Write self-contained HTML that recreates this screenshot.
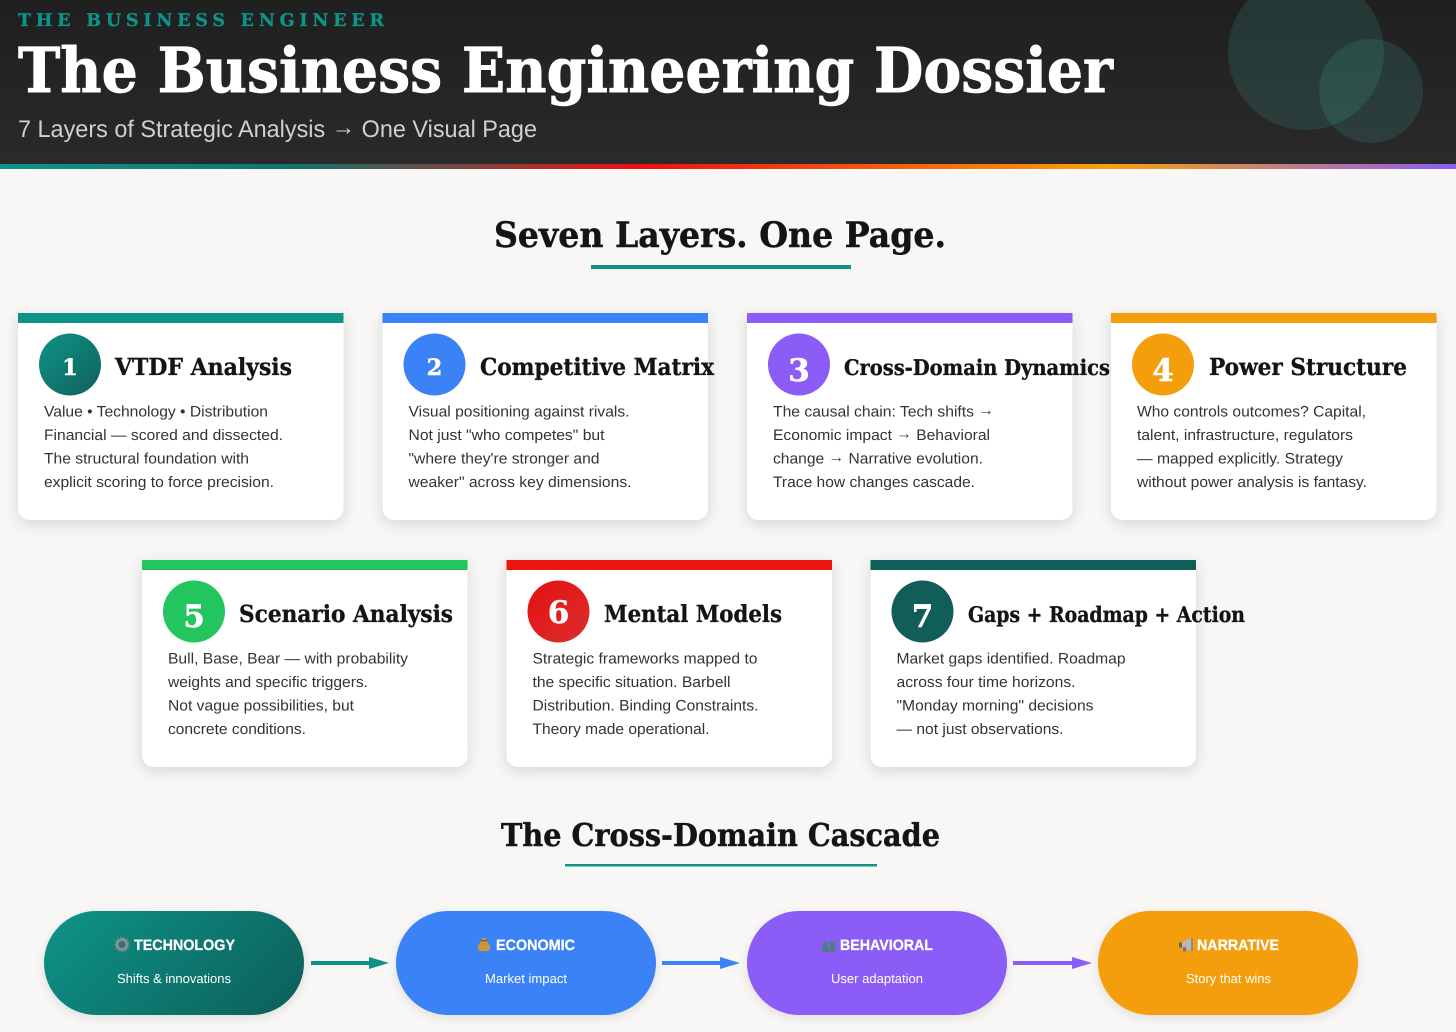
<!DOCTYPE html>
<html><head><meta charset="utf-8"><style>
html,body{margin:0;padding:0;background:#f8f7f5}
svg{display:block;text-rendering:geometricPrecision}
.s{font-family:"DejaVu Serif","Liberation Serif",serif;font-weight:700}
.a{font-family:"Liberation Sans",sans-serif}
.t{font-family:"DejaVu Serif","Liberation Serif",serif;font-weight:700;font-size:23.5px;fill:#141414;stroke:#141414;stroke-width:.35px}
.b{font-family:"Liberation Sans",sans-serif;font-size:15.2px;fill:#333}
.n{font-family:"DejaVu Serif","Liberation Serif",serif;font-weight:700;fill:#fff;stroke:#fff;stroke-width:.5px;text-anchor:middle;font-size:31px}
.sm{font-size:22.5px}
.pl{font-family:"Liberation Sans",sans-serif;font-weight:700;font-size:15px;fill:#fff;stroke:#fff;stroke-width:.25px}
.ps{font-family:"Liberation Sans",sans-serif;font-size:13px;fill:#fff}
</style></head><body>
<svg xmlns="http://www.w3.org/2000/svg" width="1456" height="1032" viewBox="0 0 1456 1032">
<defs>
<linearGradient id="hd" x1="0" y1="0" x2="0" y2="1"><stop offset="0" stop-color="#1f1f1f"/><stop offset="1" stop-color="#2a2a2a"/></linearGradient>
<linearGradient id="st" x1="0" y1="0" x2="1" y2="0"><stop offset="0" stop-color="#0d9488"/><stop offset=".2" stop-color="#0f766e"/><stop offset=".44" stop-color="#ee1010"/><stop offset=".76" stop-color="#f9a008"/><stop offset="1" stop-color="#8b5cf6"/></linearGradient>
<linearGradient id="g1" x1="0" y1="0" x2="1" y2="1"><stop offset="0" stop-color="#0d9488"/><stop offset="1" stop-color="#115e59"/></linearGradient>
<linearGradient id="g6" x1="0" y1="0" x2="1" y2="1"><stop offset="0" stop-color="#e50f0f"/><stop offset="1" stop-color="#dc2f2f"/></linearGradient>
<linearGradient id="gp" gradientUnits="userSpaceOnUse" x1="83" y1="872" x2="265" y2="1054"><stop offset="0" stop-color="#0d9488"/><stop offset="1" stop-color="#115e59"/></linearGradient>
<filter id="sh" x="-10%" y="-10%" width="120%" height="125%"><feDropShadow dx="0" dy="4" stdDeviation="7" flood-color="#000" flood-opacity=".14"/></filter>
<filter id="ps" x="-10%" y="-15%" width="120%" height="135%"><feDropShadow dx="0" dy="3" stdDeviation="5" flood-color="#000" flood-opacity=".1"/></filter>
<path id="card" d="M0 0H325.5V195a12 12 0 0 1-12 12H12a12 12 0 0 1-12-12Z"/>
</defs>
<rect width="1456" height="1032" fill="#f8f7f5"/>
<rect width="1456" height="164" fill="url(#hd)"/>
<circle cx="1306" cy="52" r="78" fill="#4adcc2" opacity=".13"/>
<circle cx="1371" cy="91" r="52" fill="#4adcc2" opacity=".13"/>
<rect y="164" width="1456" height="5" fill="url(#st)"/>
<text class="s" x="18" y="26" font-size="17.5" fill="#0d9488" stroke="#0d9488" stroke-width=".3" textLength="366" lengthAdjust="spacing">THE BUSINESS ENGINEER</text>
<text class="s" x="18" y="92" font-size="62" fill="#fff" stroke="#fff" stroke-width=".9" textLength="1095" lengthAdjust="spacingAndGlyphs">The Business Engineering Dossier</text>
<text class="a" x="18" y="137" font-size="24" fill="#d0d0d0" textLength="519" lengthAdjust="spacingAndGlyphs">7 Layers of Strategic Analysis <tspan dy="-2">→</tspan><tspan dy="2"> One Visual Page</tspan></text>

<text class="s" x="494" y="247" font-size="35" fill="#141414" stroke="#141414" stroke-width=".5" textLength="452" lengthAdjust="spacingAndGlyphs">Seven Layers. One Page.</text>
<rect x="591" y="265" width="260" height="4" fill="#0d9488"/>

<!-- cards -->
<g transform="translate(18 313)"><use href="#card" fill="#fff" filter="url(#sh)"/><rect width="325.5" height="10" fill="#0d9488"/><circle cx="52" cy="51.5" r="31" fill="url(#g1)"/><text class="n sm" x="52" y="62">1</text><text class="t" x="97" y="62" textLength="177" lengthAdjust="spacingAndGlyphs">VTDF Analysis</text></g>
<g class="b"><text x="44" y="416.500" textLength="224" lengthAdjust="spacingAndGlyphs">Value • Technology • Distribution</text><text x="44" y="440" textLength="239" lengthAdjust="spacingAndGlyphs">Financial — scored and dissected.</text><text x="44" y="463.500" textLength="205" lengthAdjust="spacingAndGlyphs">The structural foundation with</text><text x="44" y="487" textLength="230" lengthAdjust="spacingAndGlyphs">explicit scoring to force precision.</text></g>

<g transform="translate(382.500 313)"><use href="#card" fill="#fff" filter="url(#sh)"/><rect width="325.5" height="10" fill="#3b82f6"/><circle cx="52" cy="51.5" r="31" fill="#3b82f6"/><text class="n sm" x="52" y="62">2</text><text class="t" x="97.500" y="62" textLength="234" lengthAdjust="spacingAndGlyphs">Competitive Matrix</text></g>
<g class="b"><text x="408.500" y="416.500" textLength="221" lengthAdjust="spacingAndGlyphs">Visual positioning against rivals.</text><text x="408.500" y="440" textLength="196" lengthAdjust="spacingAndGlyphs">Not just "who competes" but</text><text x="408.500" y="463.500" textLength="191" lengthAdjust="spacingAndGlyphs">"where they're stronger and</text><text x="408.500" y="487" textLength="223" lengthAdjust="spacingAndGlyphs">weaker" across key dimensions.</text></g>

<g transform="translate(747 313)"><use href="#card" fill="#fff" filter="url(#sh)"/><rect width="325.5" height="10" fill="#8b5cf6"/><circle cx="52" cy="51.5" r="31" fill="#8b5cf6"/><text class="n" x="52" y="68">3</text><text class="t" x="97" y="62" style="font-size:21.5px" textLength="266" lengthAdjust="spacingAndGlyphs">Cross-Domain Dynamics</text></g>
<g class="b"><text x="773" y="416.500" textLength="221" lengthAdjust="spacingAndGlyphs">The causal chain: Tech shifts <tspan dy="-1.500">→</tspan></text><text x="773" y="440" textLength="217" lengthAdjust="spacingAndGlyphs">Economic impact <tspan dy="-1.500">→</tspan><tspan dy="1.500"> Behavioral</tspan></text><text x="773" y="463.500" textLength="210" lengthAdjust="spacingAndGlyphs">change <tspan dy="-1.500">→</tspan><tspan dy="1.500"> Narrative evolution.</tspan></text><text x="773" y="487" textLength="202" lengthAdjust="spacingAndGlyphs">Trace how changes cascade.</text></g>

<g transform="translate(1111 313)"><use href="#card" fill="#fff" filter="url(#sh)"/><rect width="325.5" height="10" fill="#f59e0b"/><circle cx="52" cy="51.5" r="31" fill="#f59e0b"/><text class="n" x="52" y="68">4</text><text class="t" x="98" y="62" textLength="198" lengthAdjust="spacingAndGlyphs">Power Structure</text></g>
<g class="b"><text x="1137" y="416.500" textLength="229" lengthAdjust="spacingAndGlyphs">Who controls outcomes? Capital,</text><text x="1137" y="440" textLength="216" lengthAdjust="spacingAndGlyphs">talent, infrastructure, regulators</text><text x="1137" y="463.500" textLength="206" lengthAdjust="spacingAndGlyphs">— mapped explicitly. Strategy</text><text x="1137" y="487" textLength="230" lengthAdjust="spacingAndGlyphs">without power analysis is fantasy.</text></g>

<g transform="translate(142 560)"><use href="#card" fill="#fff" filter="url(#sh)"/><rect width="325.5" height="10" fill="#22c55e"/><circle cx="52" cy="51.5" r="31" fill="#22c55e"/><text class="n" x="52" y="67">5</text><text class="t" x="97" y="62" textLength="214" lengthAdjust="spacingAndGlyphs">Scenario Analysis</text></g>
<g class="b"><text x="168" y="663.500" textLength="240" lengthAdjust="spacingAndGlyphs">Bull, Base, Bear — with probability</text><text x="168" y="687" textLength="200" lengthAdjust="spacingAndGlyphs">weights and specific triggers.</text><text x="168" y="710.500" textLength="186" lengthAdjust="spacingAndGlyphs">Not vague possibilities, but</text><text x="168" y="734" textLength="138" lengthAdjust="spacingAndGlyphs">concrete conditions.</text></g>

<g transform="translate(506.500 560)"><use href="#card" fill="#fff" filter="url(#sh)"/><rect width="325.5" height="10" fill="#ee1410"/><circle cx="52" cy="51.5" r="31" fill="url(#g6)"/><text class="n" x="52" y="63">6</text><text class="t" x="97.500" y="62" textLength="178" lengthAdjust="spacingAndGlyphs">Mental Models</text></g>
<g class="b"><text x="532.500" y="663.500" textLength="225" lengthAdjust="spacingAndGlyphs">Strategic frameworks mapped to</text><text x="532.500" y="687" textLength="198" lengthAdjust="spacingAndGlyphs">the specific situation. Barbell</text><text x="532.500" y="710.500" textLength="226" lengthAdjust="spacingAndGlyphs">Distribution. Binding Constraints.</text><text x="532.500" y="734" textLength="177" lengthAdjust="spacingAndGlyphs">Theory made operational.</text></g>

<g transform="translate(870.500 560)"><use href="#card" fill="#fff" filter="url(#sh)"/><rect width="325.5" height="10" fill="#115e59"/><circle cx="52" cy="51.5" r="31" fill="#115e59"/><text class="n" x="52" y="67">7</text><text class="t" x="97.500" y="62" style="font-size:21.5px" textLength="277" lengthAdjust="spacingAndGlyphs">Gaps + Roadmap + Action</text></g>
<g class="b"><text x="896.500" y="663.500" textLength="229" lengthAdjust="spacingAndGlyphs">Market gaps identified. Roadmap</text><text x="896.500" y="687" textLength="179" lengthAdjust="spacingAndGlyphs">across four time horizons.</text><text x="896.500" y="710.500" textLength="197" lengthAdjust="spacingAndGlyphs">"Monday morning" decisions</text><text x="896.500" y="734" textLength="167" lengthAdjust="spacingAndGlyphs">— not just observations.</text></g>

<text class="s" x="501" y="846" font-size="31.500" fill="#141414" stroke="#141414" stroke-width=".45" textLength="439" lengthAdjust="spacingAndGlyphs">The Cross-Domain Cascade</text>
<rect x="565" y="864" width="312" height="2.500" fill="#0d9488"/>

<!-- pills -->
<rect x="44" y="911" width="260" height="104" rx="52" fill="url(#gp)" filter="url(#ps)"/>
<rect x="396" y="911" width="260" height="104" rx="52" fill="#3b82f6" filter="url(#ps)"/>
<rect x="747" y="911" width="260" height="104" rx="52" fill="#8b5cf6" filter="url(#ps)"/>
<rect x="1098" y="911" width="260" height="104" rx="52" fill="#f59e0b" filter="url(#ps)"/>

<!-- arrows -->
<path d="M311 961H369V957L389 963L369 969V965H311Z" fill="#0d9488"/>
<path d="M662 961H720V957L740 963L720 969V965H662Z" fill="#3b82f6"/>
<path d="M1013 961H1072V957L1092 963L1072 969V965H1013Z" fill="#8b5cf6"/>

<!-- emoji-like icons -->
<g transform="translate(122 944.500)"><circle r="4.800" fill="none" stroke="#8f8f96" stroke-width="2.600"/><circle r="6.800" fill="none" stroke="#85858c" stroke-width="1.600" stroke-dasharray="1.800 1.500"/><circle r="1.800" fill="#5e5e64"/></g>
<path d="M482 938h4.500l-1 2.500c2.500 1.500 4.500 4.500 4.500 7.500 0 2-1 3-3 3h-6c-2 0-3-1-3-3 0-3 2-6 4.500-7.500Z" fill="#c9973a"/>
<rect x="481.500" y="940" width="5.500" height="1.300" fill="#7a5a20"/>
<g fill="#4a7f86"><circle cx="825.500" cy="944" r="3"/><circle cx="832.500" cy="944" r="3"/><path d="M822 952c0-4 1.500-6 3.500-6s3.500 2 3.500 6Z"/><path d="M829 952c0-4 1.500-6 3.500-6s3.500 2 3.500 6Z"/></g>
<g transform="translate(1179 938)"><path d="M2 5L12 0V13L2 9Z" fill="#b4b8b6"/><path d="M12 0l2 .5V13l-2 .5Z" fill="#8a8d8c"/><rect x="4" y="9" width="3" height="4.500" fill="#777"/><rect y="4.500" width="3" height="5" fill="#666"/></g>

<text class="pl" x="134" y="950" textLength="101" lengthAdjust="spacingAndGlyphs">TECHNOLOGY</text>
<text class="ps" x="117" y="983" textLength="114" lengthAdjust="spacingAndGlyphs">Shifts &amp; innovations</text>
<text class="pl" x="496" y="950" textLength="79" lengthAdjust="spacingAndGlyphs">ECONOMIC</text>
<text class="ps" x="485" y="983" textLength="82" lengthAdjust="spacingAndGlyphs">Market impact</text>
<text class="pl" x="840" y="950" textLength="93" lengthAdjust="spacingAndGlyphs">BEHAVIORAL</text>
<text class="ps" x="831" y="983" textLength="92" lengthAdjust="spacingAndGlyphs">User adaptation</text>
<text class="pl" x="1197" y="950" textLength="82" lengthAdjust="spacingAndGlyphs">NARRATIVE</text>
<text class="ps" x="1186" y="983" textLength="85" lengthAdjust="spacingAndGlyphs">Story that wins</text>
</svg>
</body></html>
